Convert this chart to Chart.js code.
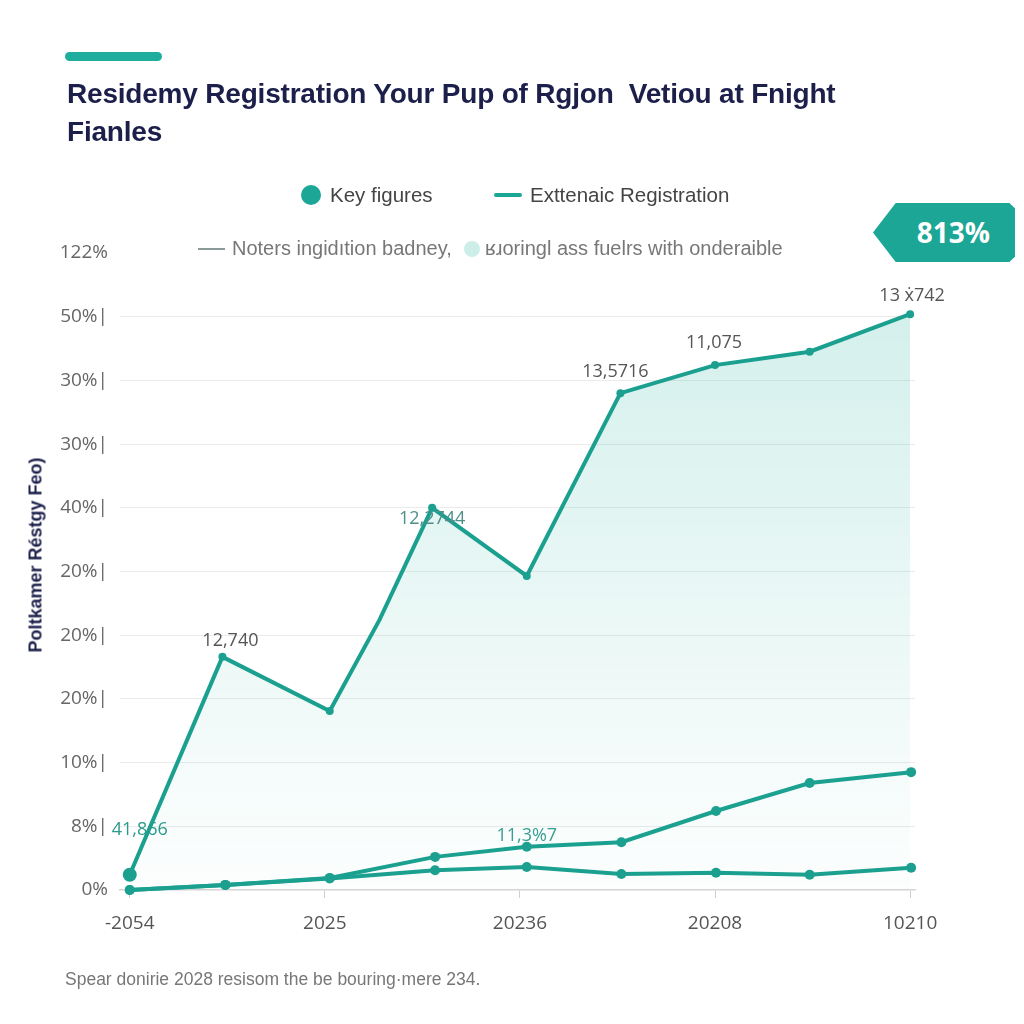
<!DOCTYPE html>
<html>
<head>
<meta charset="utf-8">
<script src="https://cdn.jsdelivr.net/npm/chart.js@4.4.1/dist/chart.umd.min.js"></script>
<style>
  body { margin: 0; background: #fff; }
  #wrap { position: relative; width: 1024px; height: 1024px; overflow: hidden; background: #fff; font-family: "Liberation Sans", Arial, sans-serif; }
  #wrap canvas { position: absolute; left: 0; top: 0; }
  .abs { position: absolute; white-space: nowrap; }
  .accent { left: 65px; top: 52px; width: 97px; height: 9px; border-radius: 5px; background: #1fae9e; }
  .title { left: 67px; top: 75px; font-size: 28px; font-weight: bold; color: #1b1f4a; line-height: 38px; letter-spacing: -0.2px; }
  .leg { font-size: 20.5px; color: #444; }
  .leg2 { font-size: 20px; color: #777; }
  .dot { border-radius: 50%; }
  .badge { left: 873px; top: 203px; width: 142px; height: 59px; background: #1ba696;
    clip-path: polygon(16% 0, 96% 0, 100% 9%, 100% 91%, 96% 100%, 16% 100%, 0 50%);
    color: #fff; font-weight: bold; font-size: 28px; line-height: 59px; text-align: right; padding-right: 25px; box-sizing: border-box; font-family: "Open Sans", sans-serif; }
  .ytitle { left: 36px; top: 555px; transform: translate(-50%, -50%) rotate(-90deg); font-size: 18px; font-weight: bold; color: #1b1f4a; }
  .foot { left: 65px; top: 969px; font-size: 17.5px; color: #777; }
</style>
</head>
<body>
<div id="wrap">
  <canvas id="chart" width="1024" height="1024"></canvas>
  <div class="abs accent"></div>
  <div class="abs title">Residemy Registration Your Pup of Rgjon&nbsp; Vetiou at Fnight<br>Fianles</div>

  <div class="abs dot" style="left:301px;top:185px;width:20px;height:20px;background:#1ba696;"></div>
  <div class="abs leg" style="left:330px;top:183px;">Key figures</div>
  <div class="abs" style="left:494px;top:193px;width:28px;height:4px;background:#1ba696;border-radius:2px;"></div>
  <div class="abs leg" style="left:530px;top:183px;">Exttenaic Registration</div>

  <div class="abs" style="left:198px;top:248px;width:27px;height:2px;background:#8a9a98;"></div>
  <div class="abs leg2" style="left:232px;top:237px;">Noters ingidıtion badney,</div>
  <div class="abs dot" style="left:464px;top:241px;width:16px;height:16px;background:#cdeee8;"></div>
  <div class="abs leg2" style="left:485px;top:237px;">ʁɹoringl ass fuelrs with onderaible</div>

  <div class="abs badge">813%</div>
  <div class="abs ytitle">Poltkamer Réstgy Feo)</div>
  <div class="abs foot">Spear donirie 2028 resisom the be bouring·mere 234.</div>
</div>
<script>
const xTickLabels = ["-2054", "2025", "20236", "20208", "10210"];
const xTickValues = [0, 2, 4, 6, 8];
const yTickLabels = ["0%", "8%|", "10%|", "20%|", "20%|", "20%|", "40%|", "30%|", "30%|", "50%|", "122%"];

const mainX = [0, 0.95, 2.05, 2.56, 3.1, 4.07, 5.03, 6.0, 6.97, 8.0];
const mainY = [0.24, 3.66, 2.81, 4.24, 6.0, 4.93, 7.8, 8.24, 8.45, 9.04];
const mainRadius = [7, 4, 4, 0, 4, 4, 4, 4, 4, 4];

const upperX = [0, 0.98, 2.05, 3.13, 4.07, 5.04, 6.01, 6.97, 8.01];
const upperY = [0, 0.08, 0.19, 0.52, 0.68, 0.75, 1.24, 1.68, 1.85];

const lowerX = [0, 0.98, 2.05, 3.13, 4.07, 5.04, 6.01, 6.97, 8.01];
const lowerY = [0, 0.08, 0.18, 0.31, 0.36, 0.25, 0.27, 0.24, 0.35];

const pointNotes = [
  { ds: 0, i: 0, text: "41,866", dx: 10, dy: -45, color: "#2a9a8c" },
  { ds: 0, i: 1, text: "12,740", dx: 8, dy: -16, color: "#555" },
  { ds: 0, i: 4, text: "12,2744", dx: 0, dy: 11, color: "#4e8f8a" },
  { ds: 0, i: 6, text: "13,5716", dx: -5, dy: -21, color: "#555" },
  { ds: 0, i: 7, text: "11,075", dx: -1, dy: -22, color: "#555" },
  { ds: 0, i: 9, text: "13 ẋ742", dx: 2, dy: -18, color: "#555" },
  { ds: 1, i: 4, text: "11,3%7", dx: 0, dy: -11, color: "#3a9e92" }
];

const teal = "#1ba090";
const zip = (xs, ys) => xs.map((x, i) => ({ x: x, y: ys[i] }));

const notesPlugin = {
  id: "notes",
  afterDatasetsDraw(chart) {
    const ctx = chart.ctx;
    ctx.save();
    ctx.font = "18px 'Open Sans', sans-serif";
    ctx.textAlign = "center";
    ctx.textBaseline = "middle";
    pointNotes.forEach((n) => {
      const el = chart.getDatasetMeta(n.ds).data[n.i];
      ctx.fillStyle = n.color;
      ctx.fillText(n.text, el.x + n.dx, el.y + n.dy);
    });
    ctx.restore();
  }
};

const ctx = document.getElementById("chart").getContext("2d");
new Chart(ctx, {
  type: "line",
  data: {
    datasets: [
      {
        label: "Key figures",
        data: zip(mainX, mainY),
        borderColor: teal,
        borderWidth: 4,
        pointRadius: mainRadius,
        pointBackgroundColor: teal,
        pointBorderWidth: 0,
        tension: 0,
        clip: 10,
        fill: "origin",
        backgroundColor: (c) => {
          const area = c.chart.chartArea;
          if (!area) return "rgba(27,160,144,0.1)";
          const g = c.chart.ctx.createLinearGradient(0, area.top, 0, area.bottom);
          g.addColorStop(0, "rgba(40,180,160,0.22)");
          g.addColorStop(0.6, "rgba(40,180,160,0.09)");
          g.addColorStop(1, "rgba(40,180,160,0.01)");
          return g;
        }
      },
      {
        label: "Exttenaic Registration",
        data: zip(upperX, upperY),
        borderColor: teal,
        borderWidth: 4,
        pointRadius: 5,
        pointBackgroundColor: teal,
        pointBorderWidth: 0,
        tension: 0,
        clip: 10,
        fill: false
      },
      {
        label: "Noters ingidıtion badney",
        data: zip(lowerX, lowerY),
        borderColor: teal,
        borderWidth: 4,
        pointRadius: 5,
        pointBackgroundColor: teal,
        pointBorderWidth: 0,
        tension: 0,
        clip: 10,
        fill: false
      }
    ]
  },
  options: {
    responsive: false,
    animation: false,
    layout: { padding: { left: 0, top: 253, right: 109, bottom: 84 } },
    plugins: { legend: { display: false }, tooltip: { enabled: false } },
    scales: {
      x: {
        type: "linear",
        min: -0.1,
        max: 8.05,
        afterBuildTicks: (s) => { s.ticks = xTickValues.map((v) => ({ value: v })); },
        afterFit: (s) => { s.height = 50; },
        ticks: {
          callback: (v) => xTickLabels[xTickValues.indexOf(v)],
          color: "#555",
          font: { size: 19, family: "'Open Sans', sans-serif" },
          padding: 14,
          maxRotation: 0
        },
        grid: { drawOnChartArea: false, tickLength: 8, color: "#cfcfcf" },
        border: { display: true, color: "#d5d5d5", width: 1.5 }
      },
      y: {
        type: "linear",
        min: 0,
        max: 10,
        afterFit: (s) => { s.width = 120; },
        ticks: {
          stepSize: 1,
          callback: (v) => yTickLabels[v],
          color: "#666",
          font: { size: 19, family: "'Open Sans', sans-serif" },
          padding: 12
        },
        grid: {
          drawTicks: false,
          color: (c) => (c.tick.value > 0 && c.tick.value < 10 ? "#ebebeb" : "rgba(0,0,0,0)")
        },
        border: { display: false }
      }
    }
  },
  plugins: [notesPlugin]
});
</script>
</body>
</html>
